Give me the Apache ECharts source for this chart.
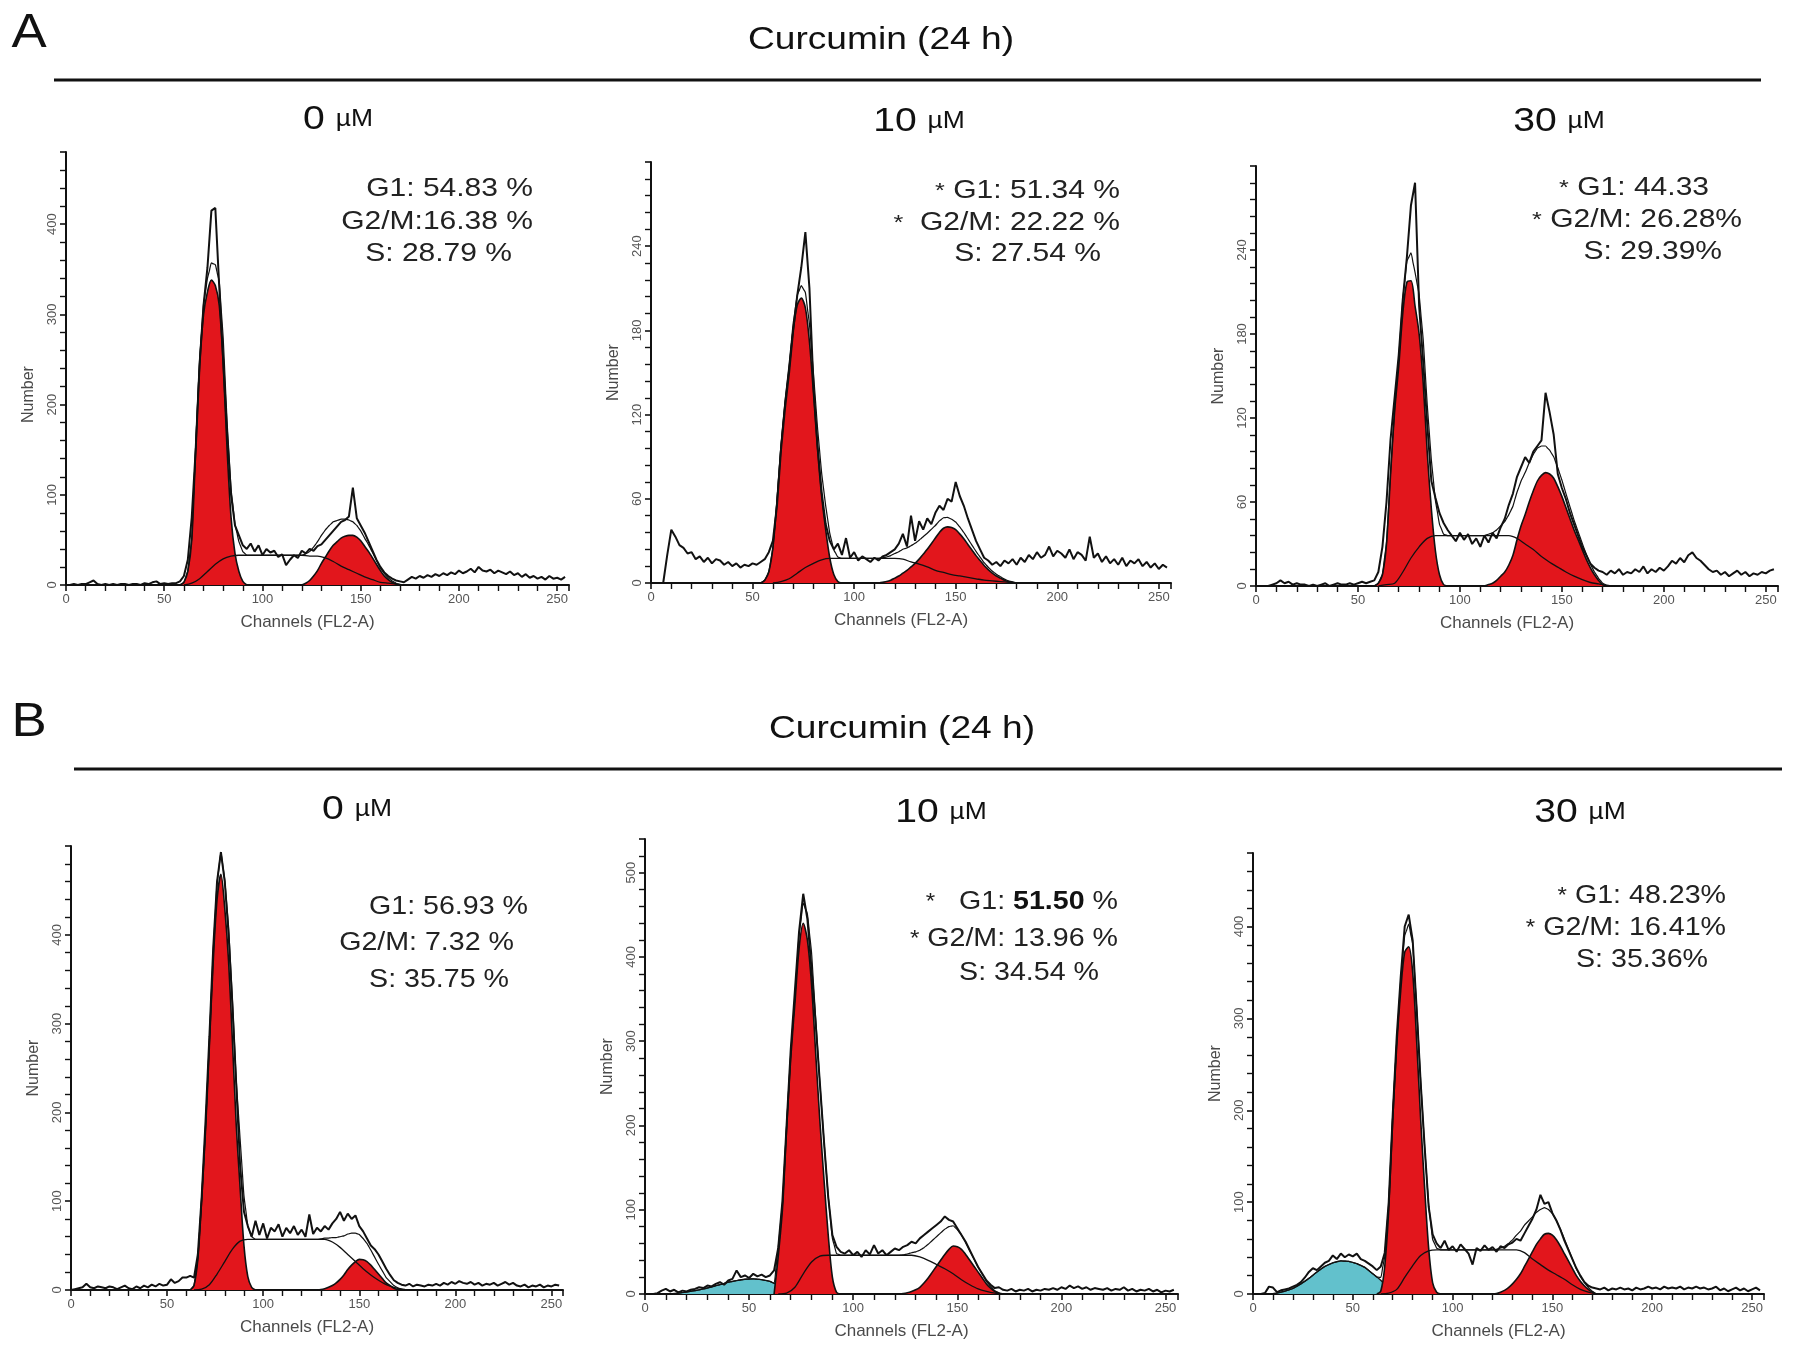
<!DOCTYPE html>
<html><head><meta charset="utf-8">
<script src="https://cdn.jsdelivr.net/npm/echarts@6/dist/echarts.min.js"></script>
<style>html,body{margin:0;padding:0;background:#fff}#c{width:1795px;height:1357px}</style>
</head><body><div id="c"></div>
<script>
// ---------- DATA (channel step 2 for raw & G1/G2, step 4 for S and sub-G1) ----------
const rawStep = 2, peakStep = 2, broadStep = 4;

// A, 0 µM
const rawA0 = [0,0,1,0,1,1,3,5,1,0, 1,0,1,0,1,1,0,1,1,0, 2,1,3,4,1,2,1,2,2,4,
  10,28,75,150,245,310,352,415,418,330, 250,168,100,66,55,44,40,46,37,44,
  33,40,36,38,31,34,22,28,33,30, 38,35,40,38,43,45,50,55,60,65,
  70,72,76,108,74,66,58,48,38,28, 20,14,10,7,5,4,3,6,9,7,
  10,8,11,9,12,10,13,11,14,12, 16,13,15,18,14,20,16,15,17,13,
  16,14,12,15,11,13,9,12,8,10, 7,9,6,10,7,8,6,9];
const g1A0Start = 58, g1A0 = [0,3,15,50,150,243,300,325,338,332,310,245,150,75,35,15,4,0];
const sA0Start = 60, sA0 = [0,2,7,15,23,29,32,33,33,33,33,33,33,33,33,33,32,32,30,26,21,17,13,9,6,3,2,1,0];
const g2A0Start = 120, g2A0 = [0,2,5,10,16,24,31,38,44,48,52,54,55,55,53,49,43,37,30,23,16,10,6,3,1,0];

// A, 10 µM
const rawA10 = [0,0,0,0,20,38,33,27,25,21, 22,17,19,15,18,14,17,16,13,15,
  12,14,11,13,12,14,13,15,17,22, 30,55,95,125,150,180,205,225,250,210,
  140,98,65,42,30,24,28,20,32,18, 22,16,19,17,15,18,16,19,20,22,
  24,28,35,26,48,30,44,38,46,42, 50,55,52,60,58,72,62,55,46,38,
  30,24,18,16,13,15,12,16,14,17, 13,18,15,20,17,22,18,20,26,19,
  23,21,18,24,17,22,20,16,33,18, 21,15,19,14,17,13,18,12,16,14,
  17,12,15,11,14,10,13,11];
const g1A10Start = 54, g1A10 = [0,2,8,25,58,97,128,153,180,198,203,196,172,135,95,62,38,18,6,1,0];
const sA10Start = 60, sA10 = [0,1,3,7,11,14,16.5,17.5,17.5,17.5,17.5,17.5,17.5,17.5,17.5,17.5,17,15,13.5,11.5,9,7.5,6,5,4,3,2,1.5,1,0.5,0];
const g2A10Start = 112, g2A10 = [0,0.5,1,2,3.5,5,7,9,11.5,14,17,20.5,24,28,32,36,39,40,39.5,38,35,31.5,27.5,23.5,19.5,16,12.5,9.5,7,5,3.5,2,1,0.5,0];

// A, 30 µM
const rawA30 = [0,0,0,0,1,2,4,2,3,1, 2,1,1,0,1,0,1,2,0,1, 2,1,1,2,1,2,3,2,3,4,
  10,28,60,105,135,165,205,235,272,288, 200,160,115,75,63,52,45,40,36,32,
  38,33,37,30,34,28,36,31,38,34, 42,48,58,66,78,85,92,88,96,100,
  104,138,124,108,80,70,62,52,44,36, 28,22,16,13,11,10,8,11,9,12,
  8,10,9,12,10,14,9,12,10,13, 11,14,18,16,20,17,22,24,20,18,
  15,12,10,11,8,10,7,9,11,8, 10,7,9,8,10,9,11,12];
const g1A30Start = 58, g1A30 = [0,2,8,30,80,125,157,195,217,218,200,180,145,95,55,25,8,1,0];
const sA30Start = 60, sA30 = [0,1,2,10,20,28,34,36,36,36,36,36,36,36,36,36,36,34,30,26,21,17,13.5,10,7,4.5,2.5,1.5,0.5,0];
const g2A30Start = 112, g2A30 = [0,1,2,4,7,10,15,22,33,43,51,60,68,75,79,81,80,77,71,64,56,48,40,33,26,19,13,8,4,1,0];

// B, 0 µM
const rawB0 = [0,1,2,3,7,3,2,4,3,2, 4,3,1,3,5,2,1,4,2,5, 3,6,4,7,5,6,12,8,10,14,
  14,16,14,40,105,190,285,385,460,493, 460,400,320,230,140,88,72,60,78,62,
  75,58,70,66,74,60,70,64,72,62, 68,60,85,63,70,66,72,68,75,80,
  88,78,86,80,84,72,66,58,50,46, 40,32,24,17,11,8,6,5,7,4,
  6,5,4,6,5,7,5,8,6,9, 7,10,8,7,9,6,8,5,7,6,
  8,5,7,9,6,8,5,4,6,3, 5,4,6,3,5,4,6,5];
const g1B0Start = 62, g1B0 = [0,5,35,102,180,275,370,440,468,430,370,280,185,115,50,15,3,0];
const sB0Start = 64, sB0 = [0,1,6,18,32,46,55,57,57,57,57,57,57,57,57,57,57,57,54,48,40,32,24,17,11,6,3,1,0];
const g2B0Start = 128, g2B0 = [0,0.5,1.5,3,5,8,12,17,23,28,32,34.5,34,32,28,23,18,13,8,5,2,0.5,0];

// B, 10 µM
const rawB10 = [0,0,0,1,4,6,3,5,2,4, 3,5,6,8,7,10,9,12,14,11, 16,18,28,20,22,19,24,21,23,20,
  22,28,55,110,200,290,360,430,475,445, 385,320,250,180,115,70,56,50,48,52,
  46,50,44,52,47,58,48,52,46,50, 54,52,56,58,62,60,66,70,74,78,
  82,86,92,88,86,78,70,62,52,42, 32,24,16,11,7,8,5,4,6,3,
  5,4,6,3,5,4,6,5,7,5, 8,6,10,7,9,6,8,5,7,6,
  5,7,4,6,5,8,4,6,3,5, 4,6,3,5,2,4,3,5];
const subB10Start = 12, subB10 = [0,1,2.5,4,6,8.5,11,14,16,17.5,18,17,15,10,3,0];
const g1B10Start = 62, g1B10 = [0,45,100,195,280,345,410,440,420,367,285,205,135,70,20,2,0];
const sB10Start = 64, sB10 = [0,1,8,24,38,45,46,46,46,46,46,46,46,46,46,46,46,44,40,35,30,24,17,11,6,3,1,0];
const g2B10Start = 122, g2B10 = [0,0.5,1.5,3,5,8,13,19,26,33,40,47,53,57,56,53,47,40,33,26,19,12,7,3,1,0];

// B, 30 µM
const rawB30 = [0,0,0,1,8,7,2,4,5,6, 8,10,13,18,24,28,26,30,34,36, 42,38,44,40,43,41,44,38,36,33,
  30,26,30,45,100,195,280,345,400,413, 385,310,230,160,95,65,55,50,58,48,
  52,46,54,49,44,32,50,47,53,48, 51,46,52,50,54,56,60,58,66,74,
  82,92,108,98,100,88,80,70,58,48, 38,28,20,13,9,7,6,5,7,4,
  6,5,7,5,6,4,7,5,6,8, 6,7,5,8,6,7,6,8,5,7,
  6,8,6,7,5,6,8,4,6,3, 5,7,4,6,3,5,7,4];
const subB30Start = 8, subB30 = [0,1,3,6,11,17,24,30,34,36,35.5,33,29,22,15,6,0];
const g1B30Start = 62, g1B30 = [0,3,30,92,190,270,330,372,378,350,275,190,115,50,12,2,0];
const sB30Start = 64, sB30 = [0,1,5,18,31,42,47,48,48,48,48,48,48,48,48,48,48,48,45,38,32,26,21,16,10,5,2,0];
const g2B30Start = 120, g2B30 = [0,0.5,2,4,7,11,16,22,30,38,46,54,60,65,66,64,59,52,44,36,28,20,14,9,5,2,0];

// axis ranges / tick labels
const yMax = [480, 300, 300, 500, 540, 480];
const yInterval = [100, 60, 60, 100, 100, 100];
const xMax = 256, xInterval = 50;
const concLabels = ['0', '10', '30', '0', '10', '30'];
const headerText = 'Curcumin (24 h)';
const panelLetters = ['A', 'B'];
const statsText = [
  ['G1: 54.83 %', 'G2/M:16.38 %', 'S: 28.79 %'],
  ['{s|*} G1: 51.34 %', '{s|*}  G2/M: 22.22 %', 'S: 27.54 %'],
  ['{s|*} G1: 44.33', '{s|*} G2/M: 26.28%', 'S: 29.39%'],
  ['G1: 56.93 %', 'G2/M: 7.32 %', 'S: 35.75 %'],
  ['{s|*}   G1: {b|51.50} %', '{s|*} G2/M: 13.96 %', 'S: 34.54 %'],
  ['{s|*} G1: 48.23%', '{s|*} G2/M: 16.41%', 'S: 35.36%']
];

// ---------- LAYOUT ----------
const F = '"Liberation Sans", Arial, sans-serif';
const grids = [
  {left: 66, top: 152, width: 503, height: 433},
  {left: 651, top: 162, width: 520, height: 421},
  {left: 1256, top: 166, width: 522, height: 420},
  {left: 71, top: 846, width: 492, height: 444},
  {left: 645, top: 839, width: 533, height: 455},
  {left: 1253, top: 853, width: 511, height: 441}
];
const concPos = [[338,120],[919,122],[1559,122],[357,810],[941,813],[1580,813]];
const statsPos = [
  [[533,189],[533,222],[512,254]],
  [[1120,191],[1120,223],[1101,254]],
  [[1709,188],[1742,220],[1722,252]],
  [[528,907],[514,943],[509,980]],
  [[1118,902],[1118,939],[1099,973]],
  [[1726,896],[1726,928],[1708,960]]
];
const statsFont = [25, 25, 25, 26, 26, 26];
const statsScale = [1.2, 1.2, 1.2, 1.1, 1.1, 1.1];
const yNamePad = [[0, 52, 0, 0], 0, 0, 0, 0, 0];

const panels = [
  {raw: rawA0, comps: [[g1A0, g1A0Start, peakStep], [g2A0, g2A0Start, peakStep]], s: [sA0, sA0Start]},
  {raw: rawA10, comps: [[g1A10, g1A10Start, peakStep], [g2A10, g2A10Start, peakStep]], s: [sA10, sA10Start]},
  {raw: rawA30, comps: [[g1A30, g1A30Start, peakStep], [g2A30, g2A30Start, peakStep]], s: [sA30, sA30Start]},
  {raw: rawB0, comps: [[g1B0, g1B0Start, peakStep], [g2B0, g2B0Start, peakStep]], s: [sB0, sB0Start]},
  {raw: rawB10, sub: [subB10, subB10Start], comps: [[g1B10, g1B10Start, peakStep], [g2B10, g2B10Start, peakStep]], s: [sB10, sB10Start]},
  {raw: rawB30, sub: [subB30, subB30Start], comps: [[g1B30, g1B30Start, peakStep], [g2B30, g2B30Start, peakStep]], s: [sB30, sB30Start]}
];

function pts(arr, start, step) { return arr.map((v, i) => [start + i * step, v]); }
function interp(arr, start, step, c) {
  const p = (c - start) / step;
  if (p < 0 || p > arr.length - 1) return 0;
  const i = Math.floor(p), f = p - i;
  return i + 1 < arr.length ? arr[i] * (1 - f) + arr[i + 1] * f : arr[i];
}

const RED = '#e2161c', CYAN = '#62c1cc', INK = '#111';
const xAxes = [], yAxes = [], series = [], gridOpts = [];

panels.forEach((p, k) => {
  gridOpts.push(Object.assign({containLabel: false}, grids[k]));
  xAxes.push({
    type: 'value', gridIndex: k, min: 0, max: xMax, interval: xInterval,
    axisLine: {show: true, lineStyle: {color: INK, width: 2}},
    axisTick: {show: true, length: 6, inside: false, lineStyle: {color: INK, width: 1.6}},
    minorTick: {show: true, splitNumber: 5, length: 6, lineStyle: {color: INK, width: 1.4}},
    splitLine: {show: false},
    axisLabel: {fontSize: 13, color: '#555', fontFamily: F, margin: 8,
      formatter: v => (v % xInterval === 0 && v <= 250) ? String(v) : ''},
    name: 'Channels (FL2-A)', nameLocation: 'middle', nameGap: 29,
    nameTextStyle: {fontSize: 17, color: '#4a4a4a', fontFamily: F, padding: [0, 20, 0, 0]}
  });
  const ym = yMax[k], yi = yInterval[k];
  yAxes.push({
    type: 'value', gridIndex: k, min: 0, max: ym, interval: yi,
    axisLine: {show: true, lineStyle: {color: INK, width: 2}},
    axisTick: {show: true, length: 6, lineStyle: {color: INK, width: 1.6}},
    minorTick: {show: true, splitNumber: 5, length: 6, lineStyle: {color: INK, width: 1.4}},
    splitLine: {show: false},
    axisLabel: {fontSize: 13, color: '#555', fontFamily: F, rotate: 90, margin: 7,
      formatter: v => (v % yi === 0 && v < ym) ? String(v) : ''},
    name: 'Number', nameLocation: 'middle', nameRotate: 90, nameGap: 29,
    nameTextStyle: {fontSize: 16, color: '#4a4a4a', fontFamily: F, padding: yNamePad[k]}
  });
  const base = {type: 'line', xAxisIndex: k, yAxisIndex: k, symbol: 'none', silent: true, animation: false};
  if (p.sub) {
    series.push(Object.assign({}, base, {data: pts(p.sub[0], p.sub[1], broadStep), smooth: 0.3, z: 2,
      lineStyle: {color: INK, width: 1.3}, areaStyle: {color: CYAN, opacity: 1}}));
  }
  p.comps.forEach(c => {
    series.push(Object.assign({}, base, {data: pts(c[0], c[1], c[2]), smooth: 0.3, z: 3,
      lineStyle: {color: INK, width: 1.6}, areaStyle: {color: RED, opacity: 1}}));
  });
  series.push(Object.assign({}, base, {data: pts(p.s[0], p.s[1], broadStep), smooth: 0.3, z: 4,
    lineStyle: {color: INK, width: 1.3}}));
  // fitted envelope: sum of the read components
  const comps = p.comps.map(c => c).concat([[p.s[0], p.s[1], broadStep]]);
  if (p.sub) comps.push([p.sub[0], p.sub[1], broadStep]);
  let lo = Infinity, hi = -Infinity;
  comps.forEach(c => { lo = Math.min(lo, c[1]); hi = Math.max(hi, c[1] + (c[0].length - 1) * c[2]); });
  const sum = [];
  for (let ch = lo; ch <= hi; ch += 1) {
    let v = 0; comps.forEach(c => { v += interp(c[0], c[1], c[2], ch); });
    sum.push([ch, v]);
  }
  series.push(Object.assign({}, base, {data: sum, smooth: 0.2, z: 5, lineStyle: {color: INK, width: 1.2}}));
  series.push(Object.assign({}, base, {data: pts(p.raw, 0, rawStep), z: 6, lineStyle: {color: INK, width: 2}}));
});

// ---------- TEXT / DECORATION ----------
const graphic = [];
[[29, 34, 80, 54, 1761, 881, 40], [29, 723, 769, 74, 1782, 902, 729]].forEach((h, i) => {
  graphic.push({type: 'text', x: h[0], y: h[1], scaleX: 1.1, style: {text: panelLetters[i], font: '48px ' + F, fill: '#111', align: 'center', verticalAlign: 'middle'}});
  graphic.push({type: 'line', shape: {x1: h[3], y1: h[2], x2: h[4], y2: h[2]}, style: {stroke: '#111', lineWidth: 3}});
  graphic.push({type: 'text', x: h[5], y: h[6], scaleX: 1.16, style: {text: headerText, font: '32px ' + F, fill: '#111', align: 'center', verticalAlign: 'middle'}});
});
concLabels.forEach((c, k) => {
  graphic.push({type: 'text', x: concPos[k][0], y: concPos[k][1], scaleX: 1.15, style: {
    text: '{n|' + c + ' }{u|µM}', align: 'center', verticalAlign: 'middle', fill: '#111',
    rich: {n: {fontSize: 34, fontFamily: F, fill: '#111'}, u: {fontSize: 23, fontFamily: F, fill: '#111'}}}});
});
statsText.forEach((lines, k) => {
  lines.forEach((t, j) => {
    graphic.push({type: 'text', x: statsPos[k][j][0], y: statsPos[k][j][1], scaleX: statsScale[k], style: {
      text: t, align: 'right', verticalAlign: 'middle', fill: '#222', font: statsFont[k] + 'px ' + F,
      rich: {s: {fontSize: statsFont[k] - 4, fontFamily: F, fill: '#222'},
             b: {fontSize: statsFont[k], fontFamily: F, fontWeight: 'bold', fill: '#111'}}}});
  });
});

const chart = echarts.init(document.getElementById('c'), null, {renderer: 'canvas'});
chart.setOption({
  animation: false, backgroundColor: '#fff',
  grid: gridOpts, xAxis: xAxes, yAxis: yAxes, series: series, graphic: graphic
});
</script></body></html>
